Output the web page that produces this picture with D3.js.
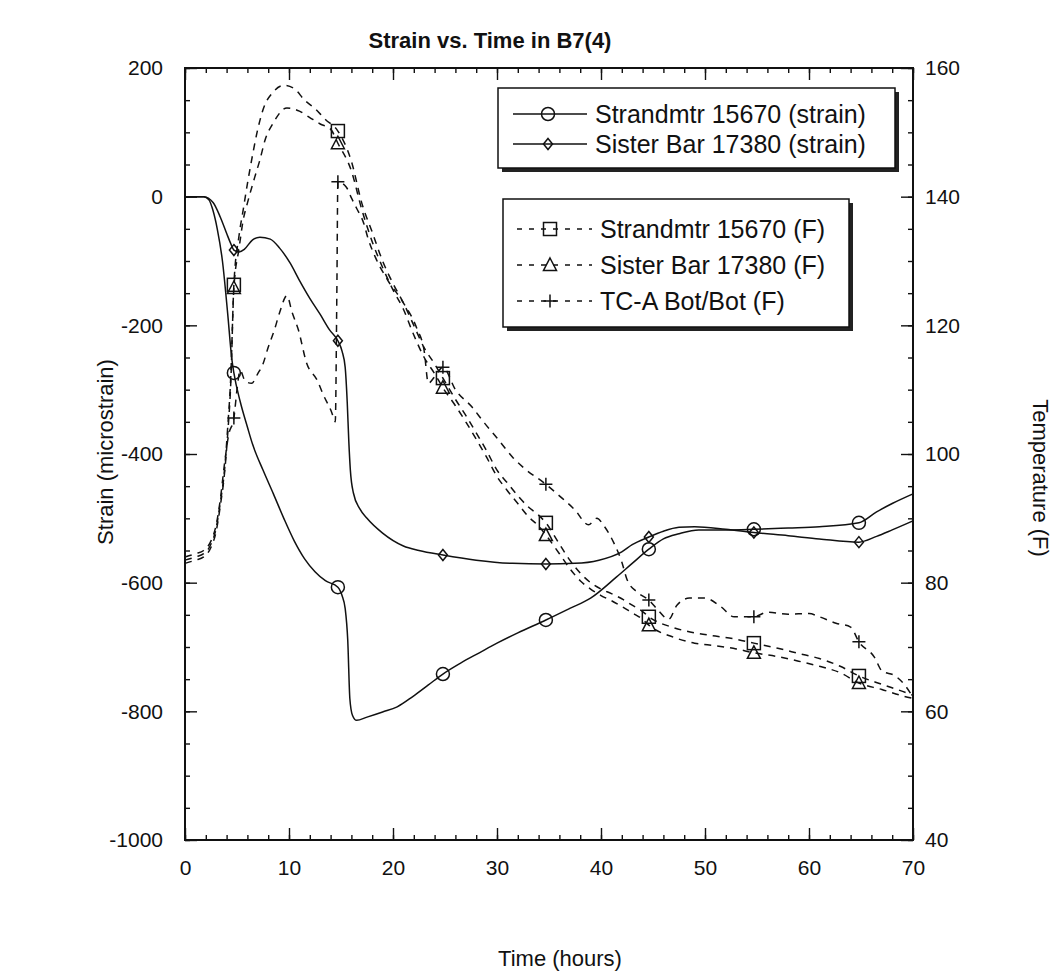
<!DOCTYPE html>
<html>
<head>
<meta charset="utf-8">
<script src="https://cdn.jsdelivr.net/npm/d3@7"></script>
<style>
  body { margin: 0; background: #fff; }
  text { font-family: "Liberation Sans", Arial, sans-serif; fill: #111; }
</style>
</head>
<body>
<div id="wrapper"></div>
<script>
// data, [hours, value]
const markerTimes = [4.7, 14.7, 24.8, 34.7, 44.6, 54.7, 64.8]

const strandStrain = [
  [0,0],[1.8,0],[2.3,-5],[2.7,-22],[3.1,-50],[3.6,-100],[4.1,-181],[4.5,-252],[4.7,-274],
  [5.3,-318],[6,-358],[6.5,-385],[7.5,-425],[8.5,-462],[9.5,-500],[10.5,-535],[11.5,-563],
  [12.5,-583],[13.5,-597],[14.7,-607],[15.1,-620],[15.4,-640],[15.65,-690],[15.85,-780],
  [16.1,-806],[16.5,-814],[17.5,-809],[19,-801],[20.4,-793],[21.9,-777],[23.4,-759],[24.8,-742],
  [26.5,-725],[28.3,-709],[30,-694],[32,-678],[34.7,-658],[37,-640],[39,-624],[41.5,-591],
  [43,-570],[44.6,-548],[46,-532],[47.5,-524],[49.4,-518],[52,-518],[54.7,-517],[58,-515],
  [61,-513],[64.8,-507],[66.5,-490],[68,-477],[70,-462]
]

const sisterStrain = [
  [0,0],[1.8,0],[2.7,-9],[3.4,-32],[4,-57],[4.4,-73],[4.7,-83],[5.2,-86],[5.7,-82],[6.5,-67],
  [7.2,-63],[8.2,-66],[9.1,-80],[10.1,-103],[11,-130],[12,-158],[13,-183],[13.9,-207],[14.7,-224],
  [15.1,-240],[15.4,-265],[15.6,-320],[15.75,-380],[15.9,-425],[16.2,-461],[16.8,-485],[17.5,-500],
  [19,-523],[21,-543],[22.5,-550],[24.8,-557],[28,-565],[31.5,-570],[34.7,-571],[37.5,-570],
  [39.8,-565],[42,-552],[43,-541],[44.6,-529],[46,-520],[47.5,-514],[49,-513],[52,-517],
  [54.7,-522],[58,-527],[61,-532],[64.8,-537],[66.5,-528],[68,-518],[70,-504]
]

const strandTemp = [
  [0,83.5],[1,84],[1.8,84.5],[2.5,86],[3,88.5],[3.4,92.5],[3.8,97.5],[4.1,104],[4.4,112],[4.7,126.3],
  [5.2,134],[5.6,138],[6,142],[6.5,146.5],[7,150.5],[7.5,153.5],[8.5,156.3],[9.5,157.3],
  [10.5,156.8],[11.5,155],[12.5,153.7],[13.5,152],[14.7,150.2],[16,145.5],[17,139],[18,134.5],
  [19,130],[20,126.5],[21,123.5],[22,120],[23,116.5],[24,114],[24.8,111.8],[26,108.5],[27,106],
  [28,103.3],[29,100.5],[30,97.5],[31,95.5],[32,93.5],[33,91.8],[34,90.5],[34.7,89.3],[36,86],
  [37,83.5],[38,81.5],[39,80],[40,79],[41,78.3],[42,77.5],[43,76.5],[44,75.5],[44.6,74.7],
  [47,73],[49,72.2],[51,71.7],[53,71.2],[54.7,70.6],[57,69.8],[59,69],[61,68.2],[63,67],
  [64.8,65.5],[67,64.2],[69,63.1],[70,62.5]
]

const sisterTemp = [
  [0,83],[1,83.5],[1.8,84],[2.5,85.5],[3,88],[3.4,92],[3.8,97],[4.1,103],[4.4,111],[4.7,125.8],
  [5.2,132],[5.6,136.4],[6,139],[6.7,143],[7.2,145.7],[7.7,148.8],[8.5,151.5],[9.8,153.8],
  [11,153.3],[12,152.3],[13,151.3],[14,150.5],[14.7,148.3],[16,144],[17,138],[18,133],[19,129],
  [20,125.5],[21,122.5],[22,118.5],[23,115],[24,112.5],[24.8,110.3],[26,107.5],[27,105],
  [28,102.3],[29,99.5],[30,96.5],[31,94.3],[32,92.3],[33,90.3],[34,88.8],[34.7,87.4],[36,84.5],
  [37,82.2],[38,80.3],[39,79],[40,78],[41,77.2],[42,76.3],[43,75.3],[44,74.3],[44.6,73.4],
  [47,71.5],[49,70.6],[51,70.2],[53,69.7],[54.7,69.1],[57,68.5],[59,67.8],[61,67],[63,66],
  [64.8,64.4],[67,63.4],[69,62.4],[70,62]
]

const tcaTemp = [
  [0,84],[1,84.5],[1.8,85],[2.5,86.5],[3,89],[3.4,93],[3.8,98.5],[4.2,103],[4.7,105.6],[5,110],[5.3,113],
  [5.8,111.3],[6.4,111],[7,112.5],[7.5,114],[8,116.6],[8.6,119.3],[9.1,122],[9.8,124.6],
  [10.3,122],[10.9,119.3],[11.7,114.1],[12.7,111.5],[13.3,109.2],[14.1,106.5],[14.45,105],
  [14.6,125],[14.7,142.3],[15.5,141.5],[16,139.8],[16.5,138.2],[17.2,135.8],[17.6,133.5],
  [18.3,130.6],[19.5,127],[21,123.5],[22.3,119.5],[23,116],[23.4,111],[24,112],[24.8,113.5],
  [26,110],[27.6,107.3],[28.8,104.8],[30,102.5],[31.5,99.5],[32.6,97.8],[34.7,95.3],[36,93.5],
  [37.5,91.3],[38.8,89],[39.6,90],[40.3,88.8],[41.2,86.3],[42,83.2],[42.5,80.5],[43.5,78.5],
  [44.6,77.3],[45.5,75.7],[46.5,74.3],[47.3,76.5],[48.5,77.6],[50,77.6],[51.5,76.3],[52.8,74.7],
  [54.7,74.7],[56,75.4],[58,75.1],[60,75.2],[61,74.7],[62.6,73.7],[64,73.1],[64.8,70.8],
  [66.3,68.4],[67,66.3],[68.3,65.5],[69.2,64.1],[70,62.2]
]

const strainSeries = [
  { name: "Strandmtr 15670 (strain)", data: strandStrain, marker: "circle" },
  { name: "Sister Bar 17380 (strain)", data: sisterStrain, marker: "diamond" },
]
const tempSeries = [
  { name: "Strandmtr 15670 (F)", data: strandTemp, marker: "square" },
  { name: "Sister Bar 17380 (F)", data: sisterTemp, marker: "triangle" },
  { name: "TC-A Bot/Bot (F)", data: tcaTemp, marker: "plus" },
]

const xTicks = [0, 10, 20, 30, 40, 50, 60, 70]
const yLeftTicks = [-1000, -800, -600, -400, -200, 0, 200]
const yRightTicks = [40, 60, 80, 100, 120, 140, 160]

const dimensions = {
  width: 1062,
  height: 974,
  margin: { top: 68, right: 149, bottom: 134, left: 185 },
}
dimensions.boundedWidth = dimensions.width - dimensions.margin.left - dimensions.margin.right
dimensions.boundedHeight = dimensions.height - dimensions.margin.top - dimensions.margin.bottom

const wrapper = d3.select("#wrapper")
  .append("svg")
  .attr("width", dimensions.width)
  .attr("height", dimensions.height)

const bounds = wrapper.append("g")
  .attr("transform", `translate(${dimensions.margin.left},${dimensions.margin.top})`)

const xScale = d3.scaleLinear().domain([0, 70]).range([0, dimensions.boundedWidth])
const yLeft = d3.scaleLinear().domain([-1000, 200]).range([dimensions.boundedHeight, 0])
const yRight = d3.scaleLinear().domain([40, 160]).range([dimensions.boundedHeight, 0])

const minorX = d3.range(0, 70.01, 2)
const minorYL = d3.range(-1000, 200.01, 50)
const minorYR = d3.range(40, 160.01, 5)
const plain = d => String(d)

function drawAxis(gen, transform) {
  const g = bounds.append("g").attr("transform", transform).call(gen)
  g.select(".domain").remove()
  g.selectAll(".tick line").attr("stroke", "#111").attr("stroke-width", 1.4)
  g.selectAll("text").style("font-size", "21px").attr("fill", "#111")
  return g
}

// minor ticks (all inward)
drawAxis(d3.axisBottom(xScale).tickValues(minorX).tickSize(-5).tickFormat(""), `translate(0,${dimensions.boundedHeight})`)
drawAxis(d3.axisTop(xScale).tickValues(minorX).tickSize(-5).tickFormat(""), "translate(0,0)")
drawAxis(d3.axisLeft(yLeft).tickValues(minorYL).tickSize(-5).tickFormat(""), "translate(0,0)")
drawAxis(d3.axisRight(yRight).tickValues(minorYR).tickSize(-5).tickFormat(""), `translate(${dimensions.boundedWidth},0)`)

// major ticks with labels
drawAxis(d3.axisBottom(xScale).tickValues(xTicks).tickSize(-12).tickPadding(20).tickFormat(plain), `translate(0,${dimensions.boundedHeight})`)
drawAxis(d3.axisTop(xScale).tickValues(xTicks).tickSize(-12).tickFormat(""), "translate(0,0)")
drawAxis(d3.axisLeft(yLeft).tickValues(yLeftTicks).tickSize(-12).tickPadding(22).tickFormat(plain), "translate(0,0)")
drawAxis(d3.axisRight(yRight).tickValues(yRightTicks).tickSize(-12).tickPadding(12).tickFormat(plain), `translate(${dimensions.boundedWidth},0)`)

bounds.append("rect")
  .attr("width", dimensions.boundedWidth)
  .attr("height", dimensions.boundedHeight)
  .attr("fill", "none")
  .attr("stroke", "#111")
  .attr("stroke-width", 2)

// markers
function marker(sel, type) {
  if (type === "circle") {
    sel.append("circle").attr("r", 6.5)
  } else if (type === "diamond") {
    sel.append("path").attr("d", "M0,-5.5L4.5,0L0,5.5L-4.5,0Z")
  } else if (type === "square") {
    sel.append("rect").attr("x", -6.5).attr("y", -6.5).attr("width", 13).attr("height", 13)
  } else if (type === "triangle") {
    sel.append("path").attr("d", "M0,-7L6.5,5.5L-6.5,5.5Z")
  } else {
    sel.append("path").attr("d", "M-6.5,0H6.5M0,-6.5V6.5")
  }
  sel.selectAll("*").attr("fill", "none").attr("stroke", "#111").attr("stroke-width", 1.5)
}

function drawSeries(series, yScale, dashed) {
  const line = d3.line()
    .x(d => xScale(d[0]))
    .y(d => yScale(d[1]))
    .curve(d3.curveMonotoneX)
  bounds.append("path")
    .datum(series.data)
    .attr("d", line)
    .attr("fill", "none")
    .attr("stroke", "#111")
    .attr("stroke-width", 1.5)
    .attr("stroke-dasharray", dashed ? "7,6" : null)
  const pts = series.data.filter(d => markerTimes.includes(d[0]))
  bounds.append("g").selectAll("g")
    .data(pts)
    .join("g")
    .attr("transform", d => `translate(${xScale(d[0])},${yScale(d[1])})`)
    .each(function () { marker(d3.select(this), series.marker) })
}

tempSeries.forEach(s => drawSeries(s, yRight, true))
strainSeries.forEach(s => drawSeries(s, yLeft, false))

// legends
function drawLegend(items, box, dashed) {
  const g = wrapper.append("g")
  g.append("rect")
    .attr("x", box.x + 4).attr("y", box.y + 4)
    .attr("width", box.w).attr("height", box.h)
    .attr("fill", "#222")
  g.append("rect")
    .attr("x", box.x).attr("y", box.y)
    .attr("width", box.w).attr("height", box.h)
    .attr("fill", "#fff").attr("stroke", "#111").attr("stroke-width", 1.5)
  items.forEach((s, i) => {
    const y = box.rowY + i * box.step
    g.append("line")
      .attr("x1", box.lineX[0]).attr("x2", box.lineX[1])
      .attr("y1", y).attr("y2", y)
      .attr("stroke", "#111").attr("stroke-width", 1.3)
      .attr("stroke-dasharray", dashed ? "5,7" : null)
    const m = g.append("g").attr("transform", `translate(${box.markX},${y})`)
    marker(m, s.marker)
    g.append("text")
      .attr("x", box.textX).attr("y", y)
      .attr("dy", "0.36em")
      .style("font-size", "25px")
      .text(s.name)
  })
}

drawLegend(strainSeries, { x: 498, y: 88, w: 397, h: 80, rowY: 114, step: 30, lineX: [513, 587], markX: 548, textX: 595 }, false)
drawLegend(tempSeries, { x: 503, y: 199, w: 346, h: 128, rowY: 229, step: 36, lineX: [517, 592], markX: 550, textX: 600 }, true)

// titles
wrapper.append("text")
  .attr("x", 490).attr("y", 48)
  .attr("text-anchor", "middle")
  .style("font-size", "22px").style("font-weight", "bold")
  .text("Strain vs. Time in B7(4)")

wrapper.append("text")
  .attr("x", 560).attr("y", 966)
  .attr("text-anchor", "middle")
  .style("font-size", "22px")
  .text("Time (hours)")

wrapper.append("text")
  .attr("transform", "translate(113,452)rotate(-90)")
  .attr("text-anchor", "middle")
  .style("font-size", "22px")
  .text("Strain (microstrain)")

wrapper.append("text")
  .attr("transform", "translate(1033,478)rotate(90)")
  .attr("text-anchor", "middle")
  .style("font-size", "22px")
  .text("Temperature (F)")
</script>
</body>
</html>
